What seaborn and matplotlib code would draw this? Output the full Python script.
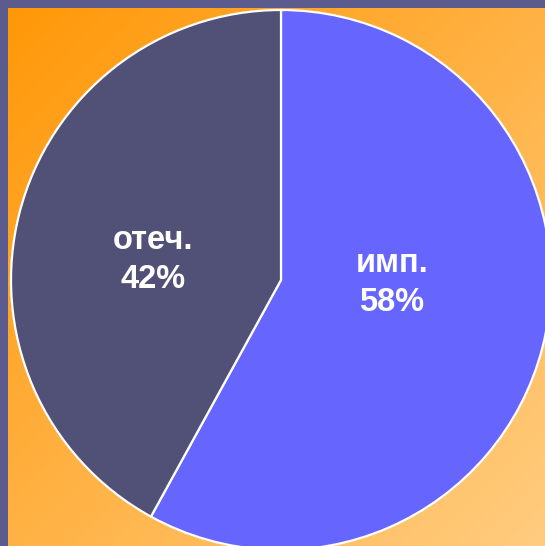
import numpy as np
import matplotlib
matplotlib.use("Agg")
import matplotlib.pyplot as plt
import seaborn as sns

categories = ["имп.", "отеч."]
values = [58, 42]
colors = ["#6666FF", "#515178"]

sns.set_style("white")
plt.rcParams['font.family'] = ['Liberation Sans', 'DejaVu Sans']

W, H = 545, 546
fig = plt.figure(figsize=(W / 100, H / 100), dpi=100)
fig.patch.set_facecolor("#5B5B8E")

# gradient background
bg = fig.add_axes([8 / W, 0, 1 - 8 / W, 1 - 8 / H])
bg.set_axis_off()
n = 256
yy, xx = np.mgrid[0:1:n * 1j, 0:1:n * 1j]
t = (xx + yy) / 2.0
c0 = np.array([255, 152, 8]) / 255.0
c1 = np.array([255, 204, 128]) / 255.0
img = c0[None, None, :] * (1 - t[..., None]) + c1[None, None, :] * t[..., None]
bg.imshow(img, aspect="auto", extent=[0, 1, 0, 1], origin="upper")

cx, cy, r = 281, 280, 270
ax = fig.add_axes([(cx - r) / W, (H - cy - r) / H, 2 * r / W, 2 * r / H])
ax.set_axis_off()
wedges, _ = ax.pie(values, colors=colors, startangle=90, counterclock=False,
                   radius=1.0,
                   wedgeprops=dict(edgecolor="white", linewidth=1.6))
for w in wedges:
    w.set_clip_on(False)
ax.set_xlim(-1, 1)
ax.set_ylim(-1, 1)

label_pos = [(0.41, -0.01), (-0.475, 0.075)]
for cat, v, (x, y) in zip(categories, values, label_pos):
    ax.text(x, y, f"{cat}\n{v}%", ha="center", va="center", color="white",
            fontsize=23.5, fontweight="bold", linespacing=1.32)

fig.savefig("out.png", dpi=100)
